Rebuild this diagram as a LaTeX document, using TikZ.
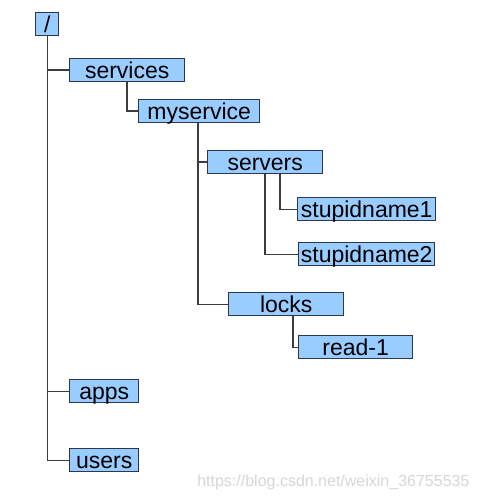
\documentclass[tikz,border=0pt]{standalone}
\usepackage{fontspec}
\setmainfont{Liberation Sans}
\definecolor{boxfill}{RGB}{153,204,255}
\definecolor{boxline}{RGB}{45,55,75}
\definecolor{wire}{RGB}{60,60,60}
\definecolor{wmark}{RGB}{215,215,215}
\begin{document}
\begin{tikzpicture}[x=1bp,y=-1bp,
  zbox/.style={draw=boxline,line width=1.4bp,fill=boxfill,anchor=north west,
    inner xsep=0pt,inner ysep=0pt,minimum height=23bp,
    text height=19.8bp,text depth=3.2bp,
    font=\fontsize{23bp}{25bp}\selectfont},
  wire/.style={draw=wire,line width=1.4bp}]
\useasboundingbox[fill=white] (0,0) rectangle (481,500);
\node[zbox,minimum width=23bp] (root) at (35,12) {/};
\node[zbox,minimum width=115bp] (services) at (69,58) {services};
\node[zbox,minimum width=121bp] (myservice) at (138,99) {myservice};
\node[zbox,minimum width=115bp] (servers) at (207,150) {servers};
\node[zbox,minimum width=138bp] (stupid1) at (297,197) {stupidname1};
\node[zbox,minimum width=136bp] (stupid2) at (298,242) {stupidname2};
\node[zbox,minimum width=115bp] (locks) at (228,292) {locks};
\node[zbox,minimum width=114bp] (read) at (298,335) {read-1};
\node[zbox,minimum width=69bp] (apps) at (69,379) {apps};
\node[zbox,minimum width=69bp] (users) at (69,448) {users};
\node[text=wmark,font=\fontsize{16bp}{18bp}\selectfont,anchor=east] (wm) at (473,482) {https://blog.csdn.net/weixin\_36755535};
\draw[wire] (root.south) |- (services.west);
\draw[wire] (root.south) |- (apps.west);
\draw[wire] (root.south) |- (users.west);
\draw[wire] ([xshift=58bp]services.south west) |- (myservice.west);
\draw[wire] ([xshift=60bp]myservice.south west) |- (servers.west);
\draw[wire] ([xshift=60bp]myservice.south west) |- (locks.west);
\draw[wire] ([xshift=73bp]servers.south west) |- (stupid1.west);
\draw[wire] ([xshift=58bp]servers.south west) |- (stupid2.west);
\draw[wire] ([xshift=65bp]locks.south west) |- (read.west);
\end{tikzpicture}
\end{document}
